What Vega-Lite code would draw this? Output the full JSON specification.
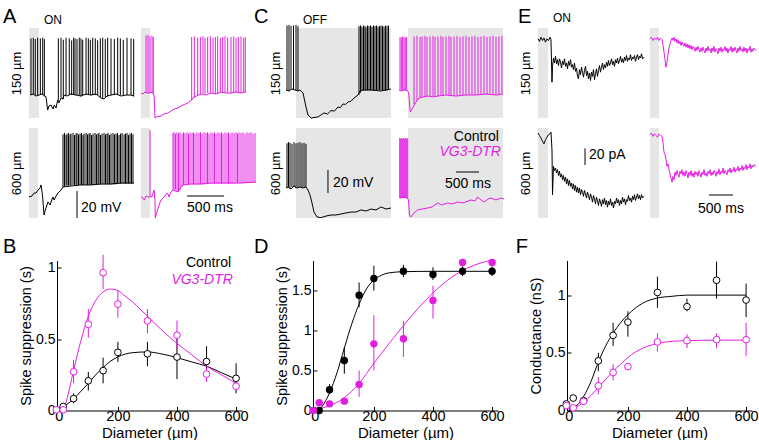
{
"$schema": "https://vega.github.io/schema/vega-lite/v6.json",
"padding": {"left": 2, "top": 7, "right": 2, "bottom": 0},
"config": {
  "font": "Liberation Sans",
  "view": {"stroke": null},
  "axis": {"grid": false, "domainColor": "black", "tickColor": "black", "labelColor": "black", "titleColor": "black", "titleFontWeight": "normal"}
},
"datasets": {
"A": [
{"c":"a1","k":"L","t":-351,"v":70.4,"s":"A"},
{"c":"a1","k":"g","t":0,"t2":135,"v":0,"w":66.7},
{"c":"a1","k":"l","t":14,"v":17},{"c":"a1","k":"l","t":54,"v":17.8},{"c":"a1","k":"l","t":95,"v":16.3},{"c":"a1","k":"l","t":135,"v":17},{"c":"a1","k":"l","t":176,"v":17.8},{"c":"a1","k":"l","t":216,"v":16.3},{"c":"a1","k":"l","t":230,"v":15.6},{"c":"a1","k":"l","t":252,"v":5.9},{"c":"a1","k":"l","t":270,"v":8.9},{"c":"a1","k":"l","t":297,"v":9.6},{"c":"a1","k":"l","t":324,"v":6.7},{"c":"a1","k":"l","t":342,"v":9.6},{"c":"a1","k":"l","t":365,"v":7.4},{"c":"a1","k":"l","t":387,"v":13.3},{"c":"a1","k":"l","t":405,"v":11.1},{"c":"a1","k":"l","t":432,"v":14.8},{"c":"a1","k":"l","t":459,"v":14.1},{"c":"a1","k":"l","t":473,"v":17},{"c":"a1","k":"l","t":513,"v":16.3},{"c":"a1","k":"l","t":567,"v":17.8},{"c":"a1","k":"l","t":635,"v":17},{"c":"a1","k":"l","t":702,"v":16.3},{"c":"a1","k":"l","t":770,"v":17.8},{"c":"a1","k":"l","t":837,"v":17},{"c":"a1","k":"l","t":905,"v":17.8},{"c":"a1","k":"l","t":972,"v":14.8},{"c":"a1","k":"l","t":1013,"v":14.1},{"c":"a1","k":"l","t":1053,"v":16.3},{"c":"a1","k":"l","t":1107,"v":17},{"c":"a1","k":"l","t":1175,"v":17.8},{"c":"a1","k":"l","t":1242,"v":16.3},{"c":"a1","k":"l","t":1310,"v":17},{"c":"a1","k":"l","t":1377,"v":17},{"c":"a1","k":"l","t":1418,"v":16.3},
{"c":"a1","k":"s","t":27,"v":17,"w":59},{"c":"a1","k":"s","t":58,"v":17,"w":59.5},{"c":"a1","k":"s","t":85,"v":17,"w":58.5},{"c":"a1","k":"s","t":117,"v":17,"w":59.5},{"c":"a1","k":"s","t":153,"v":17,"w":59},{"c":"a1","k":"s","t":185,"v":17,"w":59.5},{"c":"a1","k":"s","t":207,"v":16,"w":58.5},
{"c":"a1","k":"s","t":396,"v":13,"w":59},{"c":"a1","k":"s","t":432,"v":15,"w":59.5},{"c":"a1","k":"s","t":463,"v":14,"w":58},{"c":"a1","k":"s","t":500,"v":17,"w":59.5},{"c":"a1","k":"s","t":544,"v":17,"w":59},{"c":"a1","k":"s","t":576,"v":17,"w":57.5},{"c":"a1","k":"s","t":603,"v":17,"w":59.5},{"c":"a1","k":"s","t":621,"v":17,"w":59},{"c":"a1","k":"s","t":648,"v":17,"w":58.5},{"c":"a1","k":"s","t":679,"v":17,"w":59.5},{"c":"a1","k":"s","t":702,"v":16,"w":59},{"c":"a1","k":"s","t":725,"v":17,"w":58},{"c":"a1","k":"s","t":770,"v":17,"w":59.5},{"c":"a1","k":"s","t":801,"v":17,"w":59},{"c":"a1","k":"s","t":828,"v":17,"w":58},{"c":"a1","k":"s","t":860,"v":17,"w":59.5},{"c":"a1","k":"s","t":895,"v":17,"w":59},{"c":"a1","k":"s","t":927,"v":17,"w":57.5},{"c":"a1","k":"s","t":963,"v":15,"w":59},{"c":"a1","k":"s","t":995,"v":14,"w":59.5},{"c":"a1","k":"s","t":1030,"v":15,"w":58.5},{"c":"a1","k":"s","t":1062,"v":16,"w":59.5},{"c":"a1","k":"s","t":1107,"v":17,"w":59},{"c":"a1","k":"s","t":1152,"v":17,"w":58.5},{"c":"a1","k":"s","t":1197,"v":17,"w":59.5},{"c":"a1","k":"s","t":1233,"v":17,"w":59},{"c":"a1","k":"s","t":1273,"v":17,"w":58},{"c":"a1","k":"s","t":1323,"v":17,"w":59.5},{"c":"a1","k":"s","t":1377,"v":17,"w":59},{"c":"a1","k":"s","t":1413,"v":16,"w":58.5},
{"c":"a1","k":"tl","t":203,"v":72.6,"s":"ON","fs":12},
{"c":"a2","k":"g","t":0,"t2":122,"v":0,"w":66.7},
{"c":"a2","k":"l","t":0,"v":18.5},{"c":"a2","k":"l","t":27,"v":17.8},{"c":"a2","k":"l","t":54,"v":19.3},{"c":"a2","k":"l","t":81,"v":18.5},{"c":"a2","k":"l","t":108,"v":18.5},{"c":"a2","k":"l","t":135,"v":19},{"c":"a2","k":"l","t":162,"v":18.5},{"c":"a2","k":"l","t":176,"v":17},{"c":"a2","k":"l","t":189,"v":0},{"c":"a2","k":"l","t":216,"v":1},{"c":"a2","k":"l","t":270,"v":1.5},{"c":"a2","k":"l","t":311,"v":3},{"c":"a2","k":"l","t":365,"v":3.7},{"c":"a2","k":"l","t":405,"v":5.2},{"c":"a2","k":"l","t":446,"v":6.5},{"c":"a2","k":"l","t":500,"v":7.4},{"c":"a2","k":"l","t":540,"v":8.9},{"c":"a2","k":"l","t":600,"v":10.4},{"c":"a2","k":"l","t":635,"v":11.1},{"c":"a2","k":"l","t":675,"v":13},{"c":"a2","k":"l","t":702,"v":14.8},{"c":"a2","k":"l","t":750,"v":16.3},{"c":"a2","k":"l","t":810,"v":17.8},{"c":"a2","k":"l","t":878,"v":17},{"c":"a2","k":"l","t":945,"v":18.5},{"c":"a2","k":"l","t":1013,"v":17.8},{"c":"a2","k":"l","t":1080,"v":19.3},{"c":"a2","k":"l","t":1148,"v":18.5},{"c":"a2","k":"l","t":1215,"v":18.5},{"c":"a2","k":"l","t":1283,"v":19.3},{"c":"a2","k":"l","t":1350,"v":18.5},{"c":"a2","k":"l","t":1418,"v":19.3},
{"c":"a2","k":"s","t":68,"v":18.5,"w":61},{"c":"a2","k":"s","t":95,"v":18.5,"w":61.5},{"c":"a2","k":"s","t":122,"v":18.5,"w":60.5},{"c":"a2","k":"s","t":149,"v":18.5,"w":61},{"c":"a2","k":"s","t":166,"v":18,"w":60},
{"c":"a2","k":"s","t":684,"v":13,"w":60},{"c":"a2","k":"s","t":720,"v":15,"w":60.5},{"c":"a2","k":"s","t":765,"v":16.5,"w":59.5},{"c":"a2","k":"s","t":801,"v":17.5,"w":60},{"c":"a2","k":"s","t":837,"v":18,"w":60.5},{"c":"a2","k":"s","t":864,"v":18,"w":59.5},{"c":"a2","k":"s","t":900,"v":18.5,"w":60},{"c":"a2","k":"s","t":936,"v":18.5,"w":60.5},{"c":"a2","k":"s","t":972,"v":18.5,"w":59.5},{"c":"a2","k":"s","t":1004,"v":18,"w":60},{"c":"a2","k":"s","t":1035,"v":18,"w":60.5},{"c":"a2","k":"s","t":1071,"v":19,"w":59.5},{"c":"a2","k":"s","t":1103,"v":19,"w":60},{"c":"a2","k":"s","t":1134,"v":18.5,"w":60.5},{"c":"a2","k":"s","t":1170,"v":18.5,"w":59.5},{"c":"a2","k":"s","t":1215,"v":18.5,"w":60},{"c":"a2","k":"s","t":1251,"v":18.5,"w":60.5},{"c":"a2","k":"s","t":1283,"v":19,"w":59.5},{"c":"a2","k":"s","t":1314,"v":19,"w":60},{"c":"a2","k":"s","t":1350,"v":18.5,"w":60.5},{"c":"a2","k":"s","t":1386,"v":19,"w":59.5},{"c":"a2","k":"s","t":1408,"v":19,"w":60},
{"c":"a3","k":"g","t":0,"t2":120,"v":0,"w":66.7},
{"c":"a3","k":"l","t":0,"v":15.6},{"c":"a3","k":"l","t":40,"v":16.3},{"c":"a3","k":"l","t":68,"v":18.5},{"c":"a3","k":"l","t":95,"v":18.5},{"c":"a3","k":"l","t":122,"v":20.7},{"c":"a3","k":"l","t":149,"v":22.2},{"c":"a3","k":"l","t":162,"v":24.5},{"c":"a3","k":"l","t":182,"v":17},{"c":"a3","k":"l","t":203,"v":2.2},{"c":"a3","k":"l","t":216,"v":5.2},{"c":"a3","k":"l","t":257,"v":11.9},{"c":"a3","k":"l","t":284,"v":9.6},{"c":"a3","k":"l","t":311,"v":14.1},{"c":"a3","k":"l","t":324,"v":15.6},{"c":"a3","k":"l","t":338,"v":13.3},{"c":"a3","k":"l","t":365,"v":16.3},{"c":"a3","k":"l","t":392,"v":18.5},{"c":"a3","k":"l","t":419,"v":20},{"c":"a3","k":"l","t":432,"v":20.7},{"c":"a3","k":"l","t":459,"v":23},{"c":"a3","k":"l","t":567,"v":23.7},{"c":"a3","k":"l","t":702,"v":24.5},{"c":"a3","k":"l","t":837,"v":24.5},{"c":"a3","k":"l","t":972,"v":25.2},{"c":"a3","k":"l","t":1107,"v":25.2},{"c":"a3","k":"l","t":1242,"v":25.9},{"c":"a3","k":"l","t":1418,"v":25.9},
{"c":"a3","k":"s","t":459,"v":23,"w":62},{"c":"a3","k":"s","t":479,"v":23.5,"w":63},{"c":"a3","k":"s","t":500,"v":24,"w":61.5},{"c":"a3","k":"s","t":513,"v":24,"w":62.5},{"c":"a3","k":"s","t":533,"v":24,"w":63},{"c":"a3","k":"s","t":554,"v":24,"w":62},{"c":"a3","k":"s","t":567,"v":24,"w":62.5},{"c":"a3","k":"s","t":594,"v":24.5,"w":63},{"c":"a3","k":"s","t":614,"v":24.5,"w":61.5},{"c":"a3","k":"s","t":635,"v":24.5,"w":62.5},{"c":"a3","k":"s","t":648,"v":24.5,"w":63},{"c":"a3","k":"s","t":668,"v":24.5,"w":62},{"c":"a3","k":"s","t":689,"v":24.5,"w":62.5},{"c":"a3","k":"s","t":709,"v":24.5,"w":63},{"c":"a3","k":"s","t":729,"v":24.5,"w":61.5},{"c":"a3","k":"s","t":743,"v":24.5,"w":62.5},{"c":"a3","k":"s","t":770,"v":24.5,"w":63},{"c":"a3","k":"s","t":790,"v":24.5,"w":62},{"c":"a3","k":"s","t":810,"v":24.5,"w":62.5},{"c":"a3","k":"s","t":824,"v":24.5,"w":63},{"c":"a3","k":"s","t":844,"v":24.5,"w":61.5},{"c":"a3","k":"s","t":864,"v":24.5,"w":62.5},{"c":"a3","k":"s","t":891,"v":25,"w":63},{"c":"a3","k":"s","t":911,"v":25,"w":62},{"c":"a3","k":"s","t":932,"v":25,"w":62.5},{"c":"a3","k":"s","t":945,"v":25,"w":63},{"c":"a3","k":"s","t":965,"v":25,"w":61.5},{"c":"a3","k":"s","t":986,"v":25,"w":62.5},{"c":"a3","k":"s","t":1013,"v":25,"w":63},{"c":"a3","k":"s","t":1033,"v":25,"w":62},{"c":"a3","k":"s","t":1053,"v":25,"w":62.5},{"c":"a3","k":"s","t":1067,"v":25,"w":63},{"c":"a3","k":"s","t":1087,"v":25,"w":61.5},{"c":"a3","k":"s","t":1107,"v":25,"w":62.5},{"c":"a3","k":"s","t":1134,"v":25,"w":63},{"c":"a3","k":"s","t":1154,"v":25,"w":62},{"c":"a3","k":"s","t":1175,"v":25,"w":62.5},{"c":"a3","k":"s","t":1195,"v":25.5,"w":63},{"c":"a3","k":"s","t":1215,"v":25.5,"w":61.5},{"c":"a3","k":"s","t":1235,"v":25.5,"w":62.5},{"c":"a3","k":"s","t":1256,"v":25.5,"w":63},{"c":"a3","k":"s","t":1283,"v":25.5,"w":62},{"c":"a3","k":"s","t":1303,"v":25.5,"w":62.5},{"c":"a3","k":"s","t":1323,"v":25.5,"w":63},{"c":"a3","k":"s","t":1343,"v":25.5,"w":61.5},{"c":"a3","k":"s","t":1364,"v":25.5,"w":62.5},{"c":"a3","k":"s","t":1384,"v":25.5,"w":63},{"c":"a3","k":"s","t":1404,"v":25.5,"w":62},
{"c":"a3","k":"b","t":648,"t2":648,"v":0,"w":20},
{"c":"a3","k":"tl","t":702,"v":7.4,"s":"20 mV","fs":14},
{"c":"a4","k":"g","t":0,"t2":122,"v":0,"w":66.7},
{"c":"a4","k":"l","t":0,"v":15.6},{"c":"a4","k":"l","t":27,"v":14.8},{"c":"a4","k":"l","t":45,"v":13.3},{"c":"a4","k":"l","t":68,"v":16.3},{"c":"a4","k":"l","t":95,"v":15.6},{"c":"a4","k":"l","t":122,"v":15.6},{"c":"a4","k":"l","t":144,"v":15.6},{"c":"a4","k":"l","t":176,"v":20.7},{"c":"a4","k":"l","t":189,"v":13.3},{"c":"a4","k":"l","t":193,"v":0},{"c":"a4","k":"l","t":216,"v":4.4},{"c":"a4","k":"l","t":243,"v":9.6},{"c":"a4","k":"l","t":270,"v":13.3},{"c":"a4","k":"l","t":311,"v":15.6},{"c":"a4","k":"l","t":351,"v":18.5},{"c":"a4","k":"l","t":365,"v":17.8},{"c":"a4","k":"l","t":378,"v":15.6},{"c":"a4","k":"l","t":405,"v":19.3},{"c":"a4","k":"l","t":432,"v":20.7},{"c":"a4","k":"l","t":500,"v":19.3},{"c":"a4","k":"l","t":540,"v":23},{"c":"a4","k":"l","t":567,"v":24.5},{"c":"a4","k":"l","t":675,"v":25.2},{"c":"a4","k":"l","t":810,"v":25.2},{"c":"a4","k":"l","t":945,"v":25.9},{"c":"a4","k":"l","t":1080,"v":25.9},{"c":"a4","k":"l","t":1215,"v":25.9},{"c":"a4","k":"l","t":1350,"v":25.9},{"c":"a4","k":"l","t":1553,"v":26.7},
{"c":"a4","k":"s","t":122,"v":15.6,"w":65},
{"c":"a4","k":"s","t":432,"v":20.7,"w":63},{"c":"a4","k":"s","t":446,"v":21,"w":63.5},{"c":"a4","k":"s","t":466,"v":21,"w":62.5},{"c":"a4","k":"s","t":486,"v":20,"w":63.5},{"c":"a4","k":"s","t":506,"v":19.5,"w":63},{"c":"a4","k":"s","t":527,"v":21,"w":63.5},{"c":"a4","k":"s","t":554,"v":23,"w":62.5},{"c":"a4","k":"s","t":574,"v":24.5,"w":63.5},{"c":"a4","k":"s","t":594,"v":24.5,"w":63},{"c":"a4","k":"s","t":621,"v":25,"w":63.5},{"c":"a4","k":"s","t":641,"v":25,"w":62.5},{"c":"a4","k":"s","t":662,"v":25,"w":63.5},{"c":"a4","k":"s","t":689,"v":25,"w":63},{"c":"a4","k":"s","t":709,"v":25,"w":63.5},{"c":"a4","k":"s","t":729,"v":25,"w":62.5},{"c":"a4","k":"s","t":756,"v":25,"w":63.5},{"c":"a4","k":"s","t":783,"v":25,"w":63},{"c":"a4","k":"s","t":803,"v":25,"w":63.5},{"c":"a4","k":"s","t":824,"v":25,"w":62.5},{"c":"a4","k":"s","t":851,"v":25,"w":63.5},{"c":"a4","k":"s","t":878,"v":25,"w":63},{"c":"a4","k":"s","t":898,"v":25.5,"w":63.5},{"c":"a4","k":"s","t":918,"v":25.5,"w":62.5},{"c":"a4","k":"s","t":945,"v":25.5,"w":63.5},{"c":"a4","k":"s","t":972,"v":25.5,"w":63},{"c":"a4","k":"s","t":992,"v":25.5,"w":63.5},{"c":"a4","k":"s","t":1013,"v":25.5,"w":62.5},{"c":"a4","k":"s","t":1040,"v":25.5,"w":63.5},{"c":"a4","k":"s","t":1067,"v":25.5,"w":63},{"c":"a4","k":"s","t":1087,"v":25.5,"w":63.5},{"c":"a4","k":"s","t":1107,"v":25.5,"w":62.5},{"c":"a4","k":"s","t":1134,"v":25.5,"w":63.5},{"c":"a4","k":"s","t":1161,"v":25.5,"w":63},{"c":"a4","k":"s","t":1181,"v":25.5,"w":63.5},{"c":"a4","k":"s","t":1202,"v":25.5,"w":62.5},{"c":"a4","k":"s","t":1229,"v":25.5,"w":63.5},{"c":"a4","k":"s","t":1256,"v":25.5,"w":63},{"c":"a4","k":"s","t":1283,"v":26,"w":63.5},{"c":"a4","k":"s","t":1303,"v":26,"w":62.5},{"c":"a4","k":"s","t":1323,"v":26,"w":63.5},{"c":"a4","k":"s","t":1350,"v":26,"w":63},{"c":"a4","k":"s","t":1377,"v":26,"w":63.5},{"c":"a4","k":"s","t":1404,"v":26,"w":62.5},{"c":"a4","k":"s","t":1431,"v":26,"w":63.5},{"c":"a4","k":"s","t":1458,"v":26,"w":63},{"c":"a4","k":"s","t":1485,"v":26,"w":63.5},{"c":"a4","k":"s","t":1512,"v":26,"w":62.5},{"c":"a4","k":"s","t":1539,"v":26,"w":63},
{"c":"a4","k":"b","t":621,"t2":1121,"v":16.3,"w":16.3},
{"c":"a4","k":"tc","t":932,"v":7.4,"s":"500 ms","fs":14}
],
"C": [
{"c":"c1","k":"L","t":-694,"v":82.65,"s":"C"},
{"c":"c1","k":"g","t":217,"t2":2279,"v":0,"w":78.3},
{"c":"c1","k":"l","t":0,"v":24.4},{"c":"c1","k":"l","t":65,"v":23.5},{"c":"c1","k":"l","t":130,"v":25.2},{"c":"c1","k":"l","t":195,"v":24.4},{"c":"c1","k":"l","t":260,"v":23.5},{"c":"c1","k":"l","t":304,"v":24.4},{"c":"c1","k":"l","t":369,"v":21.8},{"c":"c1","k":"l","t":434,"v":9.6},{"c":"c1","k":"l","t":477,"v":2.6},{"c":"c1","k":"l","t":543,"v":0},{"c":"c1","k":"l","t":694,"v":0.9},{"c":"c1","k":"l","t":825,"v":4.4},{"c":"c1","k":"l","t":900,"v":3.5},{"c":"c1","k":"l","t":977,"v":6.5},{"c":"c1","k":"l","t":1050,"v":6},{"c":"c1","k":"l","t":1128,"v":9.6},{"c":"c1","k":"l","t":1180,"v":9},{"c":"c1","k":"l","t":1237,"v":12.2},{"c":"c1","k":"l","t":1290,"v":11.8},{"c":"c1","k":"l","t":1345,"v":13.9},{"c":"c1","k":"l","t":1410,"v":14.5},{"c":"c1","k":"l","t":1476,"v":17.4},{"c":"c1","k":"l","t":1562,"v":20},{"c":"c1","k":"l","t":1606,"v":23.5},{"c":"c1","k":"l","t":1671,"v":24.4},{"c":"c1","k":"l","t":1845,"v":24.4},{"c":"c1","k":"l","t":2062,"v":23.5},{"c":"c1","k":"l","t":2279,"v":25.2},
{"c":"c1","k":"s","t":22,"v":24.4,"w":80.5},{"c":"c1","k":"s","t":65,"v":23.5,"w":81},{"c":"c1","k":"s","t":109,"v":25,"w":80},{"c":"c1","k":"s","t":163,"v":24.4,"w":80.5},{"c":"c1","k":"s","t":217,"v":24,"w":81},{"c":"c1","k":"s","t":260,"v":23.5,"w":80},
{"c":"c1","k":"s","t":1584,"v":20,"w":80},{"c":"c1","k":"s","t":1617,"v":22,"w":80.5},{"c":"c1","k":"s","t":1649,"v":23.5,"w":79.5},{"c":"c1","k":"s","t":1682,"v":24,"w":80.5},{"c":"c1","k":"s","t":1714,"v":24,"w":80},{"c":"c1","k":"s","t":1736,"v":24,"w":79},{"c":"c1","k":"s","t":1769,"v":24,"w":80.5},{"c":"c1","k":"s","t":1801,"v":24,"w":80},{"c":"c1","k":"s","t":1834,"v":24,"w":80.5},{"c":"c1","k":"s","t":1866,"v":24,"w":79.5},{"c":"c1","k":"s","t":1899,"v":24,"w":80.5},{"c":"c1","k":"s","t":1931,"v":24,"w":80},{"c":"c1","k":"s","t":1964,"v":24,"w":80.5},{"c":"c1","k":"s","t":1997,"v":24,"w":79.5},{"c":"c1","k":"s","t":2029,"v":24,"w":80},{"c":"c1","k":"s","t":2062,"v":24,"w":80.5},{"c":"c1","k":"s","t":2094,"v":24,"w":80},{"c":"c1","k":"s","t":2127,"v":24,"w":79.5},{"c":"c1","k":"s","t":2159,"v":24,"w":80.5},{"c":"c1","k":"s","t":2192,"v":24,"w":80},{"c":"c1","k":"s","t":2224,"v":24.5,"w":80.5},
{"c":"c1","k":"tl","t":369,"v":85.3,"s":"OFF","fs":12},
{"c":"c2","k":"g","t":195,"t2":2257,"v":0,"w":78.3},
{"c":"c2","k":"l","t":0,"v":24.4},{"c":"c2","k":"l","t":43,"v":23.5},{"c":"c2","k":"l","t":109,"v":24.4},{"c":"c2","k":"l","t":174,"v":24.4},{"c":"c2","k":"l","t":210,"v":21.8},{"c":"c2","k":"l","t":245,"v":5.2},{"c":"c2","k":"l","t":297,"v":8.7},{"c":"c2","k":"l","t":369,"v":13.9},{"c":"c2","k":"l","t":434,"v":17.4},{"c":"c2","k":"l","t":521,"v":18.3},{"c":"c2","k":"l","t":629,"v":19.1},{"c":"c2","k":"l","t":738,"v":18.3},{"c":"c2","k":"l","t":846,"v":19.1},{"c":"c2","k":"l","t":1020,"v":20},{"c":"c2","k":"l","t":1237,"v":19.1},{"c":"c2","k":"l","t":1454,"v":20},{"c":"c2","k":"l","t":1671,"v":20},{"c":"c2","k":"l","t":1888,"v":20.9},{"c":"c2","k":"l","t":2105,"v":20},{"c":"c2","k":"l","t":2257,"v":20.9},
{"c":"c2","k":"s","t":22,"v":24,"w":70.5},{"c":"c2","k":"s","t":50,"v":24,"w":70},{"c":"c2","k":"s","t":80,"v":24,"w":71},{"c":"c2","k":"s","t":109,"v":24,"w":70.5},{"c":"c2","k":"s","t":137,"v":24,"w":70},{"c":"c2","k":"s","t":167,"v":24,"w":70.5},
{"c":"c2","k":"s","t":326,"v":12,"w":71},{"c":"c2","k":"s","t":391,"v":15,"w":71.5},{"c":"c2","k":"s","t":456,"v":17.5,"w":70.5},{"c":"c2","k":"s","t":499,"v":18,"w":71},{"c":"c2","k":"s","t":564,"v":18.5,"w":71.5},{"c":"c2","k":"s","t":608,"v":19,"w":70.5},{"c":"c2","k":"s","t":673,"v":19,"w":71},{"c":"c2","k":"s","t":738,"v":18.5,"w":71.5},{"c":"c2","k":"s","t":781,"v":19,"w":70.5},{"c":"c2","k":"s","t":846,"v":19,"w":71},{"c":"c2","k":"s","t":911,"v":19.5,"w":71.5},{"c":"c2","k":"s","t":955,"v":19.5,"w":70.5},{"c":"c2","k":"s","t":1020,"v":20,"w":71},{"c":"c2","k":"s","t":1085,"v":19.5,"w":71.5},{"c":"c2","k":"s","t":1128,"v":19.5,"w":70.5},{"c":"c2","k":"s","t":1194,"v":19.5,"w":71},{"c":"c2","k":"s","t":1259,"v":19.5,"w":71.5},{"c":"c2","k":"s","t":1324,"v":20,"w":70.5},{"c":"c2","k":"s","t":1389,"v":20,"w":71},{"c":"c2","k":"s","t":1454,"v":20,"w":71.5},{"c":"c2","k":"s","t":1519,"v":20,"w":70.5},{"c":"c2","k":"s","t":1584,"v":20,"w":71},{"c":"c2","k":"s","t":1649,"v":20,"w":71.5},{"c":"c2","k":"s","t":1714,"v":20,"w":70.5},{"c":"c2","k":"s","t":1779,"v":20,"w":71},{"c":"c2","k":"s","t":1845,"v":20.5,"w":71.5},{"c":"c2","k":"s","t":1910,"v":20.5,"w":70.5},{"c":"c2","k":"s","t":1975,"v":20.5,"w":71},{"c":"c2","k":"s","t":2040,"v":20.5,"w":71.5},{"c":"c2","k":"s","t":2105,"v":20,"w":70.5},{"c":"c2","k":"s","t":2170,"v":20.5,"w":71},{"c":"c2","k":"s","t":2235,"v":20.5,"w":71.5},
{"c":"c3","k":"g","t":217,"t2":2279,"v":0,"w":78.3},
{"c":"c3","k":"l","t":0,"v":26.1},{"c":"c3","k":"l","t":43,"v":27},{"c":"c3","k":"l","t":109,"v":25.2},{"c":"c3","k":"l","t":174,"v":27.8},{"c":"c3","k":"l","t":239,"v":26.1},{"c":"c3","k":"l","t":304,"v":27},{"c":"c3","k":"l","t":369,"v":26.1},{"c":"c3","k":"l","t":434,"v":27},{"c":"c3","k":"l","t":477,"v":24.4},{"c":"c3","k":"l","t":521,"v":20},{"c":"c3","k":"l","t":564,"v":13.1},{"c":"c3","k":"l","t":608,"v":5.2},{"c":"c3","k":"l","t":673,"v":0.9},{"c":"c3","k":"l","t":760,"v":0.3},{"c":"c3","k":"l","t":868,"v":1.7},{"c":"c3","k":"l","t":977,"v":2.6},{"c":"c3","k":"l","t":1085,"v":2.6},{"c":"c3","k":"l","t":1194,"v":3.5},{"c":"c3","k":"l","t":1302,"v":4.4},{"c":"c3","k":"l","t":1411,"v":5.2},{"c":"c3","k":"l","t":1519,"v":5.2},{"c":"c3","k":"l","t":1628,"v":7},{"c":"c3","k":"l","t":1736,"v":6.1},{"c":"c3","k":"l","t":1845,"v":7.8},{"c":"c3","k":"l","t":1953,"v":7},{"c":"c3","k":"l","t":2062,"v":9.6},{"c":"c3","k":"l","t":2170,"v":7.8},{"c":"c3","k":"l","t":2279,"v":8.7},
{"c":"c3","k":"s","t":22,"v":26,"w":65},{"c":"c3","k":"s","t":54,"v":27,"w":66},{"c":"c3","k":"s","t":87,"v":25.5,"w":65.5},{"c":"c3","k":"s","t":130,"v":27,"w":64.5},{"c":"c3","k":"s","t":174,"v":27.5,"w":66},{"c":"c3","k":"s","t":217,"v":26,"w":65},{"c":"c3","k":"s","t":260,"v":27,"w":65.5},{"c":"c3","k":"s","t":304,"v":27,"w":66},{"c":"c3","k":"s","t":347,"v":26,"w":65},{"c":"c3","k":"s","t":391,"v":27,"w":65.5},{"c":"c3","k":"s","t":434,"v":27,"w":64.5},
{"c":"c3","k":"b","t":911,"t2":911,"v":21.75,"w":41.75},
{"c":"c3","k":"tl","t":1020,"v":30.5,"s":"20 mV","fs":14},
{"c":"c4","k":"g","t":195,"t2":2257,"v":0,"w":78.3},
{"c":"c4","k":"l","t":0,"v":18.3},{"c":"c4","k":"l","t":43,"v":17.4},{"c":"c4","k":"l","t":109,"v":18.3},{"c":"c4","k":"l","t":174,"v":17.4},{"c":"c4","k":"l","t":206,"v":15.7},{"c":"c4","k":"l","t":228,"v":2.6},{"c":"c4","k":"l","t":260,"v":0.9},{"c":"c4","k":"l","t":326,"v":4.4},{"c":"c4","k":"l","t":406,"v":7},{"c":"c4","k":"l","t":499,"v":7.8},{"c":"c4","k":"l","t":623,"v":8.7},{"c":"c4","k":"l","t":716,"v":9.6},{"c":"c4","k":"l","t":840,"v":13.1},{"c":"c4","k":"l","t":933,"v":11.3},{"c":"c4","k":"l","t":1057,"v":13.1},{"c":"c4","k":"l","t":1150,"v":12.2},{"c":"c4","k":"l","t":1274,"v":13.9},{"c":"c4","k":"l","t":1389,"v":13.1},{"c":"c4","k":"l","t":1562,"v":15.7},{"c":"c4","k":"l","t":1649,"v":14.8},{"c":"c4","k":"l","t":1708,"v":18.3},{"c":"c4","k":"l","t":1779,"v":15.7},{"c":"c4","k":"l","t":1851,"v":13.9},{"c":"c4","k":"l","t":1931,"v":16.5},{"c":"c4","k":"l","t":1996,"v":17.4},{"c":"c4","k":"l","t":2105,"v":15.7},{"c":"c4","k":"l","t":2213,"v":17.4},{"c":"c4","k":"l","t":2279,"v":16.5},
{"c":"c4","k":"s","t":15,"v":17.4,"w":69.6},{"c":"c4","k":"s","t":37,"v":17.4,"w":69},{"c":"c4","k":"s","t":59,"v":17.4,"w":69.6},{"c":"c4","k":"s","t":80,"v":17.4,"w":69},{"c":"c4","k":"s","t":102,"v":17.4,"w":69.6},{"c":"c4","k":"s","t":124,"v":17.4,"w":69},{"c":"c4","k":"s","t":145,"v":17.4,"w":69.6},{"c":"c4","k":"s","t":167,"v":17.4,"w":69},{"c":"c4","k":"s","t":189,"v":17,"w":69.6},
{"c":"c4","k":"b","t":1237,"t2":1737,"v":40,"w":40},
{"c":"c4","k":"tc","t":1497,"v":29.6,"s":"500 ms","fs":14},
{"c":"c4","k":"tr","t":2170,"v":70.5,"s":"Control","fs":14},
{"c":"c4","k":"ti","t":2213,"v":57.4,"s":"VG3-DTR","fs":14}
],
"E": [
{"c":"e1","k":"L","t":-416,"v":114,"s":"E"},
{"c":"e1","k":"g","t":0,"t2":208,"v":0,"w":108},
{"c":"e1","k":"l","t":0,"v":95},{"c":"e1","k":"l","t":31,"v":92},{"c":"e1","k":"l","t":62,"v":97},{"c":"e1","k":"l","t":94,"v":93},{"c":"e1","k":"l","t":125,"v":96},{"c":"e1","k":"l","t":156,"v":91},{"c":"e1","k":"l","t":187,"v":95},{"c":"e1","k":"l","t":218,"v":93},{"c":"e1","k":"l","t":250,"v":97},{"c":"e1","k":"l","t":270,"v":94},{"c":"e1","k":"l","t":291,"v":43},{"c":"e1","k":"l","t":302,"v":62},{"c":"e1","k":"l","t":322,"v":72},{"c":"e1","k":"l","t":343,"v":66},{"c":"e1","k":"l","t":364,"v":74},{"c":"e1","k":"l","t":385,"v":65},{"c":"e1","k":"l","t":406,"v":70},{"c":"e1","k":"l","t":426,"v":63},{"c":"e1","k":"l","t":447,"v":71},{"c":"e1","k":"l","t":468,"v":67},{"c":"e1","k":"l","t":489,"v":60},{"c":"e1","k":"l","t":510,"v":68},{"c":"e1","k":"l","t":530,"v":64},{"c":"e1","k":"l","t":551,"v":71},{"c":"e1","k":"l","t":572,"v":62},{"c":"e1","k":"l","t":593,"v":66},{"c":"e1","k":"l","t":614,"v":59},{"c":"e1","k":"l","t":634,"v":68},{"c":"e1","k":"l","t":655,"v":63},{"c":"e1","k":"l","t":676,"v":70},{"c":"e1","k":"l","t":697,"v":61},{"c":"e1","k":"l","t":718,"v":64},{"c":"e1","k":"l","t":738,"v":58},{"c":"e1","k":"l","t":759,"v":66},{"c":"e1","k":"l","t":780,"v":56},{"c":"e1","k":"l","t":801,"v":60},{"c":"e1","k":"l","t":822,"v":50},{"c":"e1","k":"l","t":842,"v":47},{"c":"e1","k":"l","t":863,"v":58},{"c":"e1","k":"l","t":884,"v":52},{"c":"e1","k":"l","t":905,"v":61},{"c":"e1","k":"l","t":926,"v":55},{"c":"e1","k":"l","t":946,"v":49},{"c":"e1","k":"l","t":967,"v":57},{"c":"e1","k":"l","t":988,"v":62},{"c":"e1","k":"l","t":1009,"v":51},{"c":"e1","k":"l","t":1030,"v":56},{"c":"e1","k":"l","t":1050,"v":47},{"c":"e1","k":"l","t":1071,"v":54},{"c":"e1","k":"l","t":1092,"v":45},{"c":"e1","k":"l","t":1113,"v":55},{"c":"e1","k":"l","t":1134,"v":50},{"c":"e1","k":"l","t":1154,"v":58},{"c":"e1","k":"l","t":1175,"v":46},{"c":"e1","k":"l","t":1196,"v":53},{"c":"e1","k":"l","t":1217,"v":59},{"c":"e1","k":"l","t":1238,"v":50},{"c":"e1","k":"l","t":1258,"v":57},{"c":"e1","k":"l","t":1279,"v":63},{"c":"e1","k":"l","t":1300,"v":55},{"c":"e1","k":"l","t":1321,"v":61},{"c":"e1","k":"l","t":1342,"v":66},{"c":"e1","k":"l","t":1362,"v":58},{"c":"e1","k":"l","t":1383,"v":64},{"c":"e1","k":"l","t":1404,"v":60},{"c":"e1","k":"l","t":1425,"v":67},{"c":"e1","k":"l","t":1446,"v":62},{"c":"e1","k":"l","t":1466,"v":69},{"c":"e1","k":"l","t":1487,"v":63},{"c":"e1","k":"l","t":1508,"v":66},{"c":"e1","k":"l","t":1529,"v":71},{"c":"e1","k":"l","t":1550,"v":64},{"c":"e1","k":"l","t":1570,"v":68},{"c":"e1","k":"l","t":1591,"v":62},{"c":"e1","k":"l","t":1612,"v":70},{"c":"e1","k":"l","t":1633,"v":66},{"c":"e1","k":"l","t":1654,"v":72},{"c":"e1","k":"l","t":1674,"v":65},{"c":"e1","k":"l","t":1695,"v":69},{"c":"e1","k":"l","t":1716,"v":74},{"c":"e1","k":"l","t":1737,"v":67},{"c":"e1","k":"l","t":1758,"v":71},{"c":"e1","k":"l","t":1778,"v":66},{"c":"e1","k":"l","t":1799,"v":73},{"c":"e1","k":"l","t":1820,"v":69},{"c":"e1","k":"l","t":1841,"v":75},{"c":"e1","k":"l","t":1862,"v":68},{"c":"e1","k":"l","t":1882,"v":72},{"c":"e1","k":"l","t":1903,"v":70},{"c":"e1","k":"l","t":1924,"v":76},{"c":"e1","k":"l","t":1945,"v":69},{"c":"e1","k":"l","t":1966,"v":73},{"c":"e1","k":"l","t":1986,"v":71},{"c":"e1","k":"l","t":2007,"v":75},{"c":"e1","k":"l","t":2028,"v":68},{"c":"e1","k":"l","t":2049,"v":73},{"c":"e1","k":"l","t":2070,"v":76},{"c":"e1","k":"l","t":2090,"v":70},{"c":"e1","k":"l","t":2111,"v":74},{"c":"e1","k":"l","t":2132,"v":72},{"c":"e1","k":"l","t":2153,"v":77},{"c":"e1","k":"l","t":2174,"v":71},{"c":"e1","k":"l","t":2205,"v":73},
{"c":"e1","k":"tl","t":312,"v":120,"s":"ON","fs":12},
{"c":"e2","k":"g","t":0,"t2":187,"v":0,"w":108},
{"c":"e2","k":"l","t":0,"v":95},{"c":"e2","k":"l","t":31,"v":97},{"c":"e2","k":"l","t":62,"v":93},{"c":"e2","k":"l","t":94,"v":96},{"c":"e2","k":"l","t":125,"v":94},{"c":"e2","k":"l","t":156,"v":97},{"c":"e2","k":"l","t":187,"v":93},{"c":"e2","k":"l","t":218,"v":96},{"c":"e2","k":"l","t":250,"v":94},{"c":"e2","k":"l","t":270,"v":88},{"c":"e2","k":"l","t":291,"v":79},{"c":"e2","k":"l","t":312,"v":70},{"c":"e2","k":"l","t":333,"v":61},{"c":"e2","k":"l","t":354,"v":67},{"c":"e2","k":"l","t":374,"v":76},{"c":"e2","k":"l","t":395,"v":84},{"c":"e2","k":"l","t":416,"v":89},{"c":"e2","k":"l","t":437,"v":93},{"c":"e2","k":"l","t":458,"v":96},{"c":"e2","k":"l","t":478,"v":93},{"c":"e2","k":"l","t":499,"v":97},{"c":"e2","k":"l","t":520,"v":92},{"c":"e2","k":"l","t":541,"v":95},{"c":"e2","k":"l","t":562,"v":90},{"c":"e2","k":"l","t":582,"v":94},{"c":"e2","k":"l","t":603,"v":89},{"c":"e2","k":"l","t":624,"v":92},{"c":"e2","k":"l","t":645,"v":87},{"c":"e2","k":"l","t":666,"v":91},{"c":"e2","k":"l","t":686,"v":88},{"c":"e2","k":"l","t":707,"v":86},{"c":"e2","k":"l","t":728,"v":90},{"c":"e2","k":"l","t":749,"v":85},{"c":"e2","k":"l","t":770,"v":89},{"c":"e2","k":"l","t":790,"v":84},{"c":"e2","k":"l","t":811,"v":88},{"c":"e2","k":"l","t":832,"v":83},{"c":"e2","k":"l","t":853,"v":87},{"c":"e2","k":"l","t":874,"v":82},{"c":"e2","k":"l","t":894,"v":86},{"c":"e2","k":"l","t":915,"v":84},{"c":"e2","k":"l","t":936,"v":80},{"c":"e2","k":"l","t":957,"v":85},{"c":"e2","k":"l","t":978,"v":81},{"c":"e2","k":"l","t":998,"v":86},{"c":"e2","k":"l","t":1019,"v":82},{"c":"e2","k":"l","t":1040,"v":79},{"c":"e2","k":"l","t":1061,"v":84},{"c":"e2","k":"l","t":1082,"v":80},{"c":"e2","k":"l","t":1102,"v":85},{"c":"e2","k":"l","t":1123,"v":81},{"c":"e2","k":"l","t":1144,"v":78},{"c":"e2","k":"l","t":1165,"v":84},{"c":"e2","k":"l","t":1186,"v":80},{"c":"e2","k":"l","t":1206,"v":86},{"c":"e2","k":"l","t":1227,"v":81},{"c":"e2","k":"l","t":1248,"v":83},{"c":"e2","k":"l","t":1269,"v":78},{"c":"e2","k":"l","t":1290,"v":84},{"c":"e2","k":"l","t":1310,"v":80},{"c":"e2","k":"l","t":1331,"v":86},{"c":"e2","k":"l","t":1352,"v":79},{"c":"e2","k":"l","t":1373,"v":83},{"c":"e2","k":"l","t":1394,"v":81},{"c":"e2","k":"l","t":1414,"v":77},{"c":"e2","k":"l","t":1435,"v":84},{"c":"e2","k":"l","t":1456,"v":80},{"c":"e2","k":"l","t":1477,"v":85},{"c":"e2","k":"l","t":1498,"v":79},{"c":"e2","k":"l","t":1518,"v":83},{"c":"e2","k":"l","t":1539,"v":81},{"c":"e2","k":"l","t":1560,"v":86},{"c":"e2","k":"l","t":1581,"v":80},{"c":"e2","k":"l","t":1602,"v":84},{"c":"e2","k":"l","t":1622,"v":78},{"c":"e2","k":"l","t":1643,"v":83},{"c":"e2","k":"l","t":1664,"v":81},{"c":"e2","k":"l","t":1685,"v":86},{"c":"e2","k":"l","t":1706,"v":79},{"c":"e2","k":"l","t":1726,"v":84},{"c":"e2","k":"l","t":1747,"v":80},{"c":"e2","k":"l","t":1768,"v":85},{"c":"e2","k":"l","t":1789,"v":81},{"c":"e2","k":"l","t":1810,"v":78},{"c":"e2","k":"l","t":1830,"v":84},{"c":"e2","k":"l","t":1851,"v":80},{"c":"e2","k":"l","t":1872,"v":86},{"c":"e2","k":"l","t":1893,"v":81},{"c":"e2","k":"l","t":1914,"v":83},{"c":"e2","k":"l","t":1934,"v":79},{"c":"e2","k":"l","t":1955,"v":85},{"c":"e2","k":"l","t":1976,"v":80},{"c":"e2","k":"l","t":1997,"v":84},{"c":"e2","k":"l","t":2018,"v":78},{"c":"e2","k":"l","t":2038,"v":83},{"c":"e2","k":"l","t":2059,"v":81},{"c":"e2","k":"l","t":2080,"v":86},{"c":"e2","k":"l","t":2101,"v":79},{"c":"e2","k":"l","t":2122,"v":83},{"c":"e2","k":"l","t":2142,"v":80},{"c":"e2","k":"l","t":2163,"v":84},{"c":"e2","k":"l","t":2205,"v":81},
{"c":"e3","k":"g","t":0,"t2":208,"v":0,"w":108},
{"c":"e3","k":"l","t":0,"v":102},{"c":"e3","k":"l","t":31,"v":99},{"c":"e3","k":"l","t":62,"v":96},{"c":"e3","k":"l","t":94,"v":92},{"c":"e3","k":"l","t":125,"v":89},{"c":"e3","k":"l","t":156,"v":94},{"c":"e3","k":"l","t":187,"v":97},{"c":"e3","k":"l","t":218,"v":100},{"c":"e3","k":"l","t":250,"v":101},{"c":"e3","k":"l","t":270,"v":103},{"c":"e3","k":"l","t":291,"v":82},{"c":"e3","k":"l","t":302,"v":28},{"c":"e3","k":"l","t":322,"v":62},{"c":"e3","k":"l","t":343,"v":57},{"c":"e3","k":"l","t":364,"v":60},{"c":"e3","k":"l","t":385,"v":54},{"c":"e3","k":"l","t":406,"v":58},{"c":"e3","k":"l","t":426,"v":51},{"c":"e3","k":"l","t":447,"v":56},{"c":"e3","k":"l","t":468,"v":49},{"c":"e3","k":"l","t":489,"v":53},{"c":"e3","k":"l","t":510,"v":46},{"c":"e3","k":"l","t":530,"v":51},{"c":"e3","k":"l","t":551,"v":44},{"c":"e3","k":"l","t":572,"v":49},{"c":"e3","k":"l","t":593,"v":41},{"c":"e3","k":"l","t":614,"v":47},{"c":"e3","k":"l","t":634,"v":39},{"c":"e3","k":"l","t":655,"v":45},{"c":"e3","k":"l","t":676,"v":38},{"c":"e3","k":"l","t":697,"v":42},{"c":"e3","k":"l","t":718,"v":35},{"c":"e3","k":"l","t":738,"v":41},{"c":"e3","k":"l","t":759,"v":33},{"c":"e3","k":"l","t":780,"v":39},{"c":"e3","k":"l","t":801,"v":31},{"c":"e3","k":"l","t":822,"v":37},{"c":"e3","k":"l","t":842,"v":30},{"c":"e3","k":"l","t":863,"v":36},{"c":"e3","k":"l","t":884,"v":28},{"c":"e3","k":"l","t":905,"v":34},{"c":"e3","k":"l","t":926,"v":31},{"c":"e3","k":"l","t":946,"v":26},{"c":"e3","k":"l","t":967,"v":33},{"c":"e3","k":"l","t":988,"v":29},{"c":"e3","k":"l","t":1009,"v":24},{"c":"e3","k":"l","t":1030,"v":31},{"c":"e3","k":"l","t":1050,"v":27},{"c":"e3","k":"l","t":1071,"v":22},{"c":"e3","k":"l","t":1092,"v":29},{"c":"e3","k":"l","t":1113,"v":25},{"c":"e3","k":"l","t":1134,"v":19},{"c":"e3","k":"l","t":1154,"v":27},{"c":"e3","k":"l","t":1175,"v":23},{"c":"e3","k":"l","t":1196,"v":17},{"c":"e3","k":"l","t":1217,"v":25},{"c":"e3","k":"l","t":1238,"v":21},{"c":"e3","k":"l","t":1258,"v":15},{"c":"e3","k":"l","t":1279,"v":23},{"c":"e3","k":"l","t":1300,"v":19},{"c":"e3","k":"l","t":1321,"v":14},{"c":"e3","k":"l","t":1342,"v":22},{"c":"e3","k":"l","t":1362,"v":17},{"c":"e3","k":"l","t":1383,"v":24},{"c":"e3","k":"l","t":1404,"v":16},{"c":"e3","k":"l","t":1425,"v":21},{"c":"e3","k":"l","t":1446,"v":13},{"c":"e3","k":"l","t":1466,"v":20},{"c":"e3","k":"l","t":1487,"v":16},{"c":"e3","k":"l","t":1508,"v":23},{"c":"e3","k":"l","t":1529,"v":15},{"c":"e3","k":"l","t":1550,"v":19},{"c":"e3","k":"l","t":1570,"v":12},{"c":"e3","k":"l","t":1591,"v":20},{"c":"e3","k":"l","t":1612,"v":17},{"c":"e3","k":"l","t":1633,"v":24},{"c":"e3","k":"l","t":1654,"v":18},{"c":"e3","k":"l","t":1674,"v":22},{"c":"e3","k":"l","t":1695,"v":15},{"c":"e3","k":"l","t":1716,"v":21},{"c":"e3","k":"l","t":1737,"v":17},{"c":"e3","k":"l","t":1758,"v":25},{"c":"e3","k":"l","t":1778,"v":19},{"c":"e3","k":"l","t":1799,"v":23},{"c":"e3","k":"l","t":1820,"v":16},{"c":"e3","k":"l","t":1841,"v":22},{"c":"e3","k":"l","t":1862,"v":20},{"c":"e3","k":"l","t":1882,"v":27},{"c":"e3","k":"l","t":1903,"v":21},{"c":"e3","k":"l","t":1924,"v":24},{"c":"e3","k":"l","t":1945,"v":19},{"c":"e3","k":"l","t":1966,"v":26},{"c":"e3","k":"l","t":1986,"v":22},{"c":"e3","k":"l","t":2007,"v":28},{"c":"e3","k":"l","t":2028,"v":21},{"c":"e3","k":"l","t":2049,"v":25},{"c":"e3","k":"l","t":2070,"v":29},{"c":"e3","k":"l","t":2090,"v":23},{"c":"e3","k":"l","t":2111,"v":27},{"c":"e3","k":"l","t":2132,"v":22},{"c":"e3","k":"l","t":2153,"v":28},{"c":"e3","k":"l","t":2174,"v":24},{"c":"e3","k":"l","t":2205,"v":26},
{"c":"e3","k":"b","t":978,"t2":978,"v":63.6,"w":83.6},
{"c":"e3","k":"tl","t":1061,"v":75.6,"s":"20 pA","fs":14},
{"c":"e4","k":"g","t":0,"t2":187,"v":0,"w":108},
{"c":"e4","k":"l","t":0,"v":100},{"c":"e4","k":"l","t":31,"v":102},{"c":"e4","k":"l","t":62,"v":98},{"c":"e4","k":"l","t":94,"v":101},{"c":"e4","k":"l","t":125,"v":99},{"c":"e4","k":"l","t":156,"v":97},{"c":"e4","k":"l","t":187,"v":101},{"c":"e4","k":"l","t":218,"v":99},{"c":"e4","k":"l","t":250,"v":98},{"c":"e4","k":"l","t":270,"v":91},{"c":"e4","k":"l","t":291,"v":79},{"c":"e4","k":"l","t":312,"v":76},{"c":"e4","k":"l","t":333,"v":70},{"c":"e4","k":"l","t":354,"v":62},{"c":"e4","k":"l","t":374,"v":65},{"c":"e4","k":"l","t":395,"v":58},{"c":"e4","k":"l","t":416,"v":53},{"c":"e4","k":"l","t":437,"v":48},{"c":"e4","k":"l","t":458,"v":43},{"c":"e4","k":"l","t":478,"v":50},{"c":"e4","k":"l","t":499,"v":46},{"c":"e4","k":"l","t":520,"v":55},{"c":"e4","k":"l","t":541,"v":51},{"c":"e4","k":"l","t":562,"v":57},{"c":"e4","k":"l","t":582,"v":52},{"c":"e4","k":"l","t":603,"v":49},{"c":"e4","k":"l","t":624,"v":56},{"c":"e4","k":"l","t":645,"v":53},{"c":"e4","k":"l","t":666,"v":58},{"c":"e4","k":"l","t":686,"v":51},{"c":"e4","k":"l","t":707,"v":55},{"c":"e4","k":"l","t":728,"v":50},{"c":"e4","k":"l","t":749,"v":57},{"c":"e4","k":"l","t":770,"v":53},{"c":"e4","k":"l","t":790,"v":48},{"c":"e4","k":"l","t":811,"v":55},{"c":"e4","k":"l","t":832,"v":51},{"c":"e4","k":"l","t":853,"v":57},{"c":"e4","k":"l","t":874,"v":50},{"c":"e4","k":"l","t":894,"v":54},{"c":"e4","k":"l","t":915,"v":49},{"c":"e4","k":"l","t":936,"v":56},{"c":"e4","k":"l","t":957,"v":52},{"c":"e4","k":"l","t":978,"v":55},{"c":"e4","k":"l","t":998,"v":50},{"c":"e4","k":"l","t":1019,"v":57},{"c":"e4","k":"l","t":1040,"v":53},{"c":"e4","k":"l","t":1061,"v":49},{"c":"e4","k":"l","t":1082,"v":55},{"c":"e4","k":"l","t":1102,"v":52},{"c":"e4","k":"l","t":1123,"v":58},{"c":"e4","k":"l","t":1144,"v":51},{"c":"e4","k":"l","t":1165,"v":54},{"c":"e4","k":"l","t":1186,"v":50},{"c":"e4","k":"l","t":1206,"v":56},{"c":"e4","k":"l","t":1227,"v":53},{"c":"e4","k":"l","t":1248,"v":58},{"c":"e4","k":"l","t":1269,"v":51},{"c":"e4","k":"l","t":1290,"v":55},{"c":"e4","k":"l","t":1310,"v":52},{"c":"e4","k":"l","t":1331,"v":57},{"c":"e4","k":"l","t":1352,"v":54},{"c":"e4","k":"l","t":1373,"v":50},{"c":"e4","k":"l","t":1394,"v":56},{"c":"e4","k":"l","t":1414,"v":53},{"c":"e4","k":"l","t":1435,"v":59},{"c":"e4","k":"l","t":1456,"v":52},{"c":"e4","k":"l","t":1477,"v":56},{"c":"e4","k":"l","t":1498,"v":54},{"c":"e4","k":"l","t":1518,"v":60},{"c":"e4","k":"l","t":1539,"v":53},{"c":"e4","k":"l","t":1560,"v":57},{"c":"e4","k":"l","t":1581,"v":55},{"c":"e4","k":"l","t":1602,"v":52},{"c":"e4","k":"l","t":1622,"v":58},{"c":"e4","k":"l","t":1643,"v":55},{"c":"e4","k":"l","t":1664,"v":60},{"c":"e4","k":"l","t":1685,"v":54},{"c":"e4","k":"l","t":1706,"v":58},{"c":"e4","k":"l","t":1726,"v":56},{"c":"e4","k":"l","t":1747,"v":61},{"c":"e4","k":"l","t":1768,"v":55},{"c":"e4","k":"l","t":1789,"v":59},{"c":"e4","k":"l","t":1810,"v":57},{"c":"e4","k":"l","t":1830,"v":62},{"c":"e4","k":"l","t":1851,"v":56},{"c":"e4","k":"l","t":1872,"v":60},{"c":"e4","k":"l","t":1893,"v":58},{"c":"e4","k":"l","t":1914,"v":63},{"c":"e4","k":"l","t":1934,"v":57},{"c":"e4","k":"l","t":1955,"v":61},{"c":"e4","k":"l","t":1976,"v":59},{"c":"e4","k":"l","t":1997,"v":64},{"c":"e4","k":"l","t":2018,"v":58},{"c":"e4","k":"l","t":2038,"v":62},{"c":"e4","k":"l","t":2059,"v":60},{"c":"e4","k":"l","t":2080,"v":65},{"c":"e4","k":"l","t":2101,"v":59},{"c":"e4","k":"l","t":2122,"v":63},{"c":"e4","k":"l","t":2142,"v":61},{"c":"e4","k":"l","t":2163,"v":64},{"c":"e4","k":"l","t":2205,"v":62},
{"c":"e4","k":"b","t":1227,"t2":1727,"v":27.6,"w":27.6},
{"c":"e4","k":"tc","t":1477,"v":10.8,"s":"500 ms","fs":14}
],
"B": [
{"k":"L","x":-189,"y":1.106,"s":"B"},
{"k":"p","g":"Control","x":15,"y":0.028,"lo":0.028,"hi":0.028},{"k":"p","g":"Control","x":50,"y":0.083,"lo":0.05,"hi":0.12},{"k":"p","g":"Control","x":100,"y":0.208,"lo":0.14,"hi":0.27},{"k":"p","g":"Control","x":150,"y":0.279,"lo":0.19,"hi":0.37},{"k":"p","g":"Control","x":200,"y":0.407,"lo":0.34,"hi":0.48},{"k":"p","g":"Control","x":300,"y":0.397,"lo":0.31,"hi":0.48},{"k":"p","g":"Control","x":400,"y":0.374,"lo":0.22,"hi":0.51},{"k":"p","g":"Control","x":500,"y":0.343,"lo":0.24,"hi":0.45},{"k":"p","g":"Control","x":600,"y":0.225,"lo":0.12,"hi":0.33},
{"k":"p","g":"VG3-DTR","x":-8,"y":0.005,"lo":0.005,"hi":0.005},{"k":"p","g":"VG3-DTR","x":15,"y":0.005,"lo":0.005,"hi":0.005},{"k":"p","g":"VG3-DTR","x":50,"y":0.272,"lo":0.19,"hi":0.355},{"k":"p","g":"VG3-DTR","x":100,"y":0.603,"lo":0.51,"hi":0.71},{"k":"p","g":"VG3-DTR","x":150,"y":0.965,"lo":0.85,"hi":1.09},{"k":"p","g":"VG3-DTR","x":200,"y":0.745,"lo":0.65,"hi":0.84},{"k":"p","g":"VG3-DTR","x":300,"y":0.627,"lo":0.54,"hi":0.71},{"k":"p","g":"VG3-DTR","x":400,"y":0.527,"lo":0.43,"hi":0.63},{"k":"p","g":"VG3-DTR","x":500,"y":0.255,"lo":0.2,"hi":0.3},{"k":"p","g":"VG3-DTR","x":600,"y":0.17,"lo":0.14,"hi":0.2},
{"k":"f","g":"Control","x":0,"y":0.01},{"k":"f","g":"Control","x":25,"y":0.04},{"k":"f","g":"Control","x":50,"y":0.08},{"k":"f","g":"Control","x":75,"y":0.135},{"k":"f","g":"Control","x":100,"y":0.19},{"k":"f","g":"Control","x":125,"y":0.25},{"k":"f","g":"Control","x":150,"y":0.3},{"k":"f","g":"Control","x":175,"y":0.345},{"k":"f","g":"Control","x":200,"y":0.375},{"k":"f","g":"Control","x":250,"y":0.405},{"k":"f","g":"Control","x":300,"y":0.41},{"k":"f","g":"Control","x":350,"y":0.395},{"k":"f","g":"Control","x":400,"y":0.37},{"k":"f","g":"Control","x":450,"y":0.34},{"k":"f","g":"Control","x":500,"y":0.31},{"k":"f","g":"Control","x":550,"y":0.265},{"k":"f","g":"Control","x":600,"y":0.22},
{"k":"f","g":"VG3-DTR","x":15,"y":0},{"k":"f","g":"VG3-DTR","x":25,"y":0.06},{"k":"f","g":"VG3-DTR","x":50,"y":0.28},{"k":"f","g":"VG3-DTR","x":75,"y":0.49},{"k":"f","g":"VG3-DTR","x":100,"y":0.66},{"k":"f","g":"VG3-DTR","x":125,"y":0.77},{"k":"f","g":"VG3-DTR","x":150,"y":0.83},{"k":"f","g":"VG3-DTR","x":175,"y":0.85},{"k":"f","g":"VG3-DTR","x":200,"y":0.84},{"k":"f","g":"VG3-DTR","x":225,"y":0.8},{"k":"f","g":"VG3-DTR","x":250,"y":0.76},{"k":"f","g":"VG3-DTR","x":275,"y":0.71},{"k":"f","g":"VG3-DTR","x":300,"y":0.66},{"k":"f","g":"VG3-DTR","x":350,"y":0.56},{"k":"f","g":"VG3-DTR","x":400,"y":0.47},{"k":"f","g":"VG3-DTR","x":450,"y":0.39},{"k":"f","g":"VG3-DTR","x":500,"y":0.31},{"k":"f","g":"VG3-DTR","x":550,"y":0.25},{"k":"f","g":"VG3-DTR","x":600,"y":0.19},
{"k":"lc","x":583,"y":1.03,"s":"Control"},
{"k":"lv","x":589,"y":0.917,"s":"VG3-DTR"}
],
"D": [
{"k":"L","x":-206,"y":1.975,"s":"D"},
{"k":"p","g":"Control","x":15,"y":0,"lo":0,"hi":0},{"k":"p","g":"Control","x":50,"y":0.26,"lo":0.21,"hi":0.33},{"k":"p","g":"Control","x":100,"y":0.625,"lo":0.46,"hi":0.79},{"k":"p","g":"Control","x":150,"y":1.44,"lo":1.29,"hi":1.6},{"k":"p","g":"Control","x":200,"y":1.65,"lo":1.5,"hi":1.81},{"k":"p","g":"Control","x":300,"y":1.74,"lo":1.67,"hi":1.82},{"k":"p","g":"Control","x":400,"y":1.7,"lo":1.63,"hi":1.79},{"k":"p","g":"Control","x":500,"y":1.74,"lo":1.68,"hi":1.8},{"k":"p","g":"Control","x":600,"y":1.74,"lo":1.68,"hi":1.8},
{"k":"p","g":"VG3-DTR","x":-5,"y":0,"lo":0,"hi":0},{"k":"p","g":"VG3-DTR","x":15,"y":0.096,"lo":0.096,"hi":0.096},{"k":"p","g":"VG3-DTR","x":50,"y":0.083,"lo":0.083,"hi":0.083},{"k":"p","g":"VG3-DTR","x":100,"y":0.117,"lo":0.117,"hi":0.117},{"k":"p","g":"VG3-DTR","x":150,"y":0.325,"lo":0.17,"hi":0.5},{"k":"p","g":"VG3-DTR","x":200,"y":0.833,"lo":0.5,"hi":1.19},{"k":"p","g":"VG3-DTR","x":300,"y":0.896,"lo":0.67,"hi":1.12},{"k":"p","g":"VG3-DTR","x":400,"y":1.375,"lo":1.15,"hi":1.56},{"k":"p","g":"VG3-DTR","x":500,"y":1.85,"lo":1.85,"hi":1.85},{"k":"p","g":"VG3-DTR","x":600,"y":1.85,"lo":1.85,"hi":1.85},
{"k":"f","g":"Control","x":15,"y":0},{"k":"f","g":"Control","x":25,"y":0.05},{"k":"f","g":"Control","x":50,"y":0.22},{"k":"f","g":"Control","x":75,"y":0.47},{"k":"f","g":"Control","x":100,"y":0.78},{"k":"f","g":"Control","x":125,"y":1.08},{"k":"f","g":"Control","x":150,"y":1.33},{"k":"f","g":"Control","x":175,"y":1.52},{"k":"f","g":"Control","x":200,"y":1.63},{"k":"f","g":"Control","x":225,"y":1.69},{"k":"f","g":"Control","x":250,"y":1.72},{"k":"f","g":"Control","x":300,"y":1.735},{"k":"f","g":"Control","x":400,"y":1.74},{"k":"f","g":"Control","x":600,"y":1.74},
{"k":"f","g":"VG3-DTR","x":0,"y":0},{"k":"f","g":"VG3-DTR","x":25,"y":0.03},{"k":"f","g":"VG3-DTR","x":50,"y":0.06},{"k":"f","g":"VG3-DTR","x":100,"y":0.16},{"k":"f","g":"VG3-DTR","x":150,"y":0.34},{"k":"f","g":"VG3-DTR","x":200,"y":0.59},{"k":"f","g":"VG3-DTR","x":250,"y":0.83},{"k":"f","g":"VG3-DTR","x":300,"y":1.06},{"k":"f","g":"VG3-DTR","x":350,"y":1.28},{"k":"f","g":"VG3-DTR","x":400,"y":1.47},{"k":"f","g":"VG3-DTR","x":450,"y":1.63},{"k":"f","g":"VG3-DTR","x":500,"y":1.75},{"k":"f","g":"VG3-DTR","x":550,"y":1.83},{"k":"f","g":"VG3-DTR","x":600,"y":1.88}
],
"F": [
{"k":"L","x":-179,"y":1.369,"s":"F"},
{"k":"p","g":"Control","x":-8,"y":0.057,"lo":0.057,"hi":0.057},{"k":"p","g":"Control","x":15,"y":0.108,"lo":0.108,"hi":0.108},{"k":"p","g":"Control","x":50,"y":0.086,"lo":0.086,"hi":0.086},{"k":"p","g":"Control","x":100,"y":0.43,"lo":0.34,"hi":0.5},{"k":"p","g":"Control","x":150,"y":0.651,"lo":0.56,"hi":0.76},{"k":"p","g":"Control","x":200,"y":0.766,"lo":0.64,"hi":0.86},{"k":"p","g":"Control","x":300,"y":1.023,"lo":0.89,"hi":1.16},{"k":"p","g":"Control","x":400,"y":0.9,"lo":0.86,"hi":0.97},{"k":"p","g":"Control","x":500,"y":1.129,"lo":0.97,"hi":1.29},{"k":"p","g":"Control","x":600,"y":0.957,"lo":0.81,"hi":1.1},
{"k":"p","g":"VG3-DTR","x":-8,"y":0.043,"lo":0.043,"hi":0.043},{"k":"p","g":"VG3-DTR","x":15,"y":0.023,"lo":0.023,"hi":0.023},{"k":"p","g":"VG3-DTR","x":50,"y":0.08,"lo":0.08,"hi":0.08},{"k":"p","g":"VG3-DTR","x":100,"y":0.214,"lo":0.14,"hi":0.29},{"k":"p","g":"VG3-DTR","x":150,"y":0.329,"lo":0.26,"hi":0.4},{"k":"p","g":"VG3-DTR","x":200,"y":0.38,"lo":0.38,"hi":0.38},{"k":"p","g":"VG3-DTR","x":300,"y":0.594,"lo":0.51,"hi":0.67},{"k":"p","g":"VG3-DTR","x":400,"y":0.606,"lo":0.54,"hi":0.66},{"k":"p","g":"VG3-DTR","x":500,"y":0.614,"lo":0.54,"hi":0.67},{"k":"p","g":"VG3-DTR","x":600,"y":0.614,"lo":0.47,"hi":0.76},
{"k":"f","g":"Control","x":0,"y":0.02},{"k":"f","g":"Control","x":25,"y":0.04},{"k":"f","g":"Control","x":50,"y":0.12},{"k":"f","g":"Control","x":75,"y":0.25},{"k":"f","g":"Control","x":100,"y":0.42},{"k":"f","g":"Control","x":125,"y":0.56},{"k":"f","g":"Control","x":150,"y":0.67},{"k":"f","g":"Control","x":175,"y":0.76},{"k":"f","g":"Control","x":200,"y":0.83},{"k":"f","g":"Control","x":250,"y":0.93},{"k":"f","g":"Control","x":300,"y":0.975},{"k":"f","g":"Control","x":350,"y":0.99},{"k":"f","g":"Control","x":400,"y":1},{"k":"f","g":"Control","x":500,"y":1},{"k":"f","g":"Control","x":600,"y":1},
{"k":"f","g":"VG3-DTR","x":0,"y":0.01},{"k":"f","g":"VG3-DTR","x":25,"y":0.03},{"k":"f","g":"VG3-DTR","x":50,"y":0.07},{"k":"f","g":"VG3-DTR","x":75,"y":0.13},{"k":"f","g":"VG3-DTR","x":100,"y":0.2},{"k":"f","g":"VG3-DTR","x":125,"y":0.27},{"k":"f","g":"VG3-DTR","x":150,"y":0.34},{"k":"f","g":"VG3-DTR","x":175,"y":0.4},{"k":"f","g":"VG3-DTR","x":200,"y":0.46},{"k":"f","g":"VG3-DTR","x":250,"y":0.54},{"k":"f","g":"VG3-DTR","x":300,"y":0.58},{"k":"f","g":"VG3-DTR","x":350,"y":0.6},{"k":"f","g":"VG3-DTR","x":400,"y":0.605},{"k":"f","g":"VG3-DTR","x":500,"y":0.61},{"k":"f","g":"VG3-DTR","x":600,"y":0.61}
]
},
"spacing": 15.5,
"vconcat": [
{"columns": 8, "bounds": "flush", "spacing": {"row": 10, "column": 2},
 "concat": [
  {"width":110,"height":90,"data":{"name":"A"},"transform":[{"filter":"datum.c=='a1'"}],
   "encoding":{"x":{"field":"t","type":"quantitative","scale":{"domain":[0,1485],"nice":false,"zero":false},"axis":null},
               "y":{"field":"v","type":"quantitative","scale":{"domain":[0,66.7],"nice":false,"zero":false},"axis":{"title":"150 µm","domain":false,"ticks":false,"labels":false,"titleFontSize":13,"titlePadding":6}}},
   "layer":[
    {"transform":[{"filter":"datum.k=='g'"}],"mark":{"type":"rect","color":"#e6e6e6"},"encoding":{"x2":{"field":"t2"},"y2":{"field":"w"}}},
    {"transform":[{"filter":"datum.k=='l'"}],"mark":{"type":"line","color":"black","strokeWidth":1},"encoding":{}},
    {"transform":[{"filter":"datum.k=='s'"}],"mark":{"type":"rule","color":"black","strokeWidth":1},"encoding":{"y2":{"field":"w"}}},
    {"transform":[{"filter":"datum.k=='tl'"}],"mark":{"type":"text","align":"left","baseline":"middle","color":"black"},"encoding":{"text":{"field":"s"},"size":{"field":"fs","type":"quantitative","scale":null}}},
    {"transform":[{"filter":"datum.k=='L'"}],"mark":{"type":"text","align":"left","baseline":"alphabetic","fontSize":20,"color":"black"},"encoding":{"text":{"field":"s"}}}
   ]},
  {"width":110,"height":90,"data":{"name":"A"},"transform":[{"filter":"datum.c=='a2'"}],
   "encoding":{"x":{"field":"t","type":"quantitative","scale":{"domain":[0,1485],"nice":false,"zero":false},"axis":null},
               "y":{"field":"v","type":"quantitative","scale":{"domain":[0,66.7],"nice":false,"zero":false},"axis":null}},
   "layer":[
    {"transform":[{"filter":"datum.k=='g'"}],"mark":{"type":"rect","color":"#e6e6e6"},"encoding":{"x2":{"field":"t2"},"y2":{"field":"w"}}},
    {"transform":[{"filter":"datum.k=='l'"}],"mark":{"type":"line","color":"#e31ee3","strokeWidth":1},"encoding":{}},
    {"transform":[{"filter":"datum.k=='s'"}],"mark":{"type":"rule","color":"#e31ee3","strokeWidth":1},"encoding":{"y2":{"field":"w"}}}
   ]},
  {"width":31,"height":90,"data":{"values":[{"a":1}]},"mark":{"type":"point","opacity":0}},
  {"width":111,"height":90,"data":{"name":"C"},"transform":[{"filter":"datum.c=='c1'"}],
   "encoding":{"x":{"field":"t","type":"quantitative","scale":{"domain":[0,2409],"nice":false,"zero":false},"axis":null},
               "y":{"field":"v","type":"quantitative","scale":{"domain":[0,78.3],"nice":false,"zero":false},"axis":{"title":"150 µm","domain":false,"ticks":false,"labels":false,"titleFontSize":13,"titlePadding":4}}},
   "layer":[
    {"transform":[{"filter":"datum.k=='g'"}],"mark":{"type":"rect","color":"#e6e6e6"},"encoding":{"x2":{"field":"t2"},"y2":{"field":"w"}}},
    {"transform":[{"filter":"datum.k=='l'"}],"mark":{"type":"line","color":"black","strokeWidth":1},"encoding":{}},
    {"transform":[{"filter":"datum.k=='s'"}],"mark":{"type":"rule","color":"black","strokeWidth":1},"encoding":{"y2":{"field":"w"}}},
    {"transform":[{"filter":"datum.k=='tl'"}],"mark":{"type":"text","align":"left","baseline":"middle","color":"black"},"encoding":{"text":{"field":"s"},"size":{"field":"fs","type":"quantitative","scale":null}}},
    {"transform":[{"filter":"datum.k=='L'"}],"mark":{"type":"text","align":"left","baseline":"alphabetic","fontSize":20,"color":"black"},"encoding":{"text":{"field":"s"}}}
   ]},
  {"width":105,"height":90,"data":{"name":"C"},"transform":[{"filter":"datum.c=='c2'"}],
   "encoding":{"x":{"field":"t","type":"quantitative","scale":{"domain":[0,2279],"nice":false,"zero":false},"axis":null},
               "y":{"field":"v","type":"quantitative","scale":{"domain":[0,78.3],"nice":false,"zero":false},"axis":null}},
   "layer":[
    {"transform":[{"filter":"datum.k=='g'"}],"mark":{"type":"rect","color":"#e6e6e6"},"encoding":{"x2":{"field":"t2"},"y2":{"field":"w"}}},
    {"transform":[{"filter":"datum.k=='l'"}],"mark":{"type":"line","color":"#e31ee3","strokeWidth":1},"encoding":{}},
    {"transform":[{"filter":"datum.k=='s'"}],"mark":{"type":"rule","color":"#e31ee3","strokeWidth":1},"encoding":{"y2":{"field":"w"}}}
   ]},
  {"width":30,"height":90,"data":{"values":[{"a":1}]},"mark":{"type":"point","opacity":0}},
  {"width":110,"height":90,"data":{"name":"E"},"transform":[{"filter":"datum.c=='e1'"}],
   "encoding":{"x":{"field":"t","type":"quantitative","scale":{"domain":[0,2288],"nice":false,"zero":false},"axis":null},
               "y":{"field":"v","type":"quantitative","scale":{"domain":[0,108],"nice":false,"zero":false},"axis":{"title":"150 µm","domain":false,"ticks":false,"labels":false,"titleFontSize":13,"titlePadding":6}}},
   "layer":[
    {"transform":[{"filter":"datum.k=='g'"}],"mark":{"type":"rect","color":"#e6e6e6"},"encoding":{"x2":{"field":"t2"},"y2":{"field":"w"}}},
    {"transform":[{"filter":"datum.k=='l'"}],"mark":{"type":"line","color":"black","strokeWidth":1},"encoding":{}},
    {"transform":[{"filter":"datum.k=='tl'"}],"mark":{"type":"text","align":"left","baseline":"middle","color":"black"},"encoding":{"text":{"field":"s"},"size":{"field":"fs","type":"quantitative","scale":null}}},
    {"transform":[{"filter":"datum.k=='L'"}],"mark":{"type":"text","align":"left","baseline":"alphabetic","fontSize":20,"color":"black"},"encoding":{"text":{"field":"s"}}}
   ]},
  {"width":106,"height":90,"data":{"name":"E"},"transform":[{"filter":"datum.c=='e2'"}],
   "encoding":{"x":{"field":"t","type":"quantitative","scale":{"domain":[0,2205],"nice":false,"zero":false},"axis":null},
               "y":{"field":"v","type":"quantitative","scale":{"domain":[0,108],"nice":false,"zero":false},"axis":null}},
   "layer":[
    {"transform":[{"filter":"datum.k=='g'"}],"mark":{"type":"rect","color":"#e6e6e6"},"encoding":{"x2":{"field":"t2"},"y2":{"field":"w"}}},
    {"transform":[{"filter":"datum.k=='l'"}],"mark":{"type":"line","color":"#e31ee3","strokeWidth":1},"encoding":{}}
   ]},
  {"width":110,"height":90,"data":{"name":"A"},"transform":[{"filter":"datum.c=='a3'"}],
   "encoding":{"x":{"field":"t","type":"quantitative","scale":{"domain":[0,1485],"nice":false,"zero":false},"axis":null},
               "y":{"field":"v","type":"quantitative","scale":{"domain":[0,66.7],"nice":false,"zero":false},"axis":{"title":"600 µm","domain":false,"ticks":false,"labels":false,"titleFontSize":13,"titlePadding":6}}},
   "layer":[
    {"transform":[{"filter":"datum.k=='g'"}],"mark":{"type":"rect","color":"#e6e6e6"},"encoding":{"x2":{"field":"t2"},"y2":{"field":"w"}}},
    {"transform":[{"filter":"datum.k=='l'"}],"mark":{"type":"line","color":"black","strokeWidth":1},"encoding":{}},
    {"transform":[{"filter":"datum.k=='s'"}],"mark":{"type":"rule","color":"black","strokeWidth":1},"encoding":{"y2":{"field":"w"}}},
    {"transform":[{"filter":"datum.k=='b'"}],"mark":{"type":"rule","color":"black","strokeWidth":1},"encoding":{"x2":{"field":"t2"},"y2":{"field":"w"}}},
    {"transform":[{"filter":"datum.k=='tl'"}],"mark":{"type":"text","align":"left","baseline":"middle","color":"black"},"encoding":{"text":{"field":"s"},"size":{"field":"fs","type":"quantitative","scale":null}}}
   ]},
  {"width":110,"height":90,"data":{"name":"A"},"transform":[{"filter":"datum.c=='a4'"}],
   "encoding":{"x":{"field":"t","type":"quantitative","scale":{"domain":[0,1485],"nice":false,"zero":false},"axis":null},
               "y":{"field":"v","type":"quantitative","scale":{"domain":[0,66.7],"nice":false,"zero":false},"axis":null}},
   "layer":[
    {"transform":[{"filter":"datum.k=='g'"}],"mark":{"type":"rect","color":"#e6e6e6"},"encoding":{"x2":{"field":"t2"},"y2":{"field":"w"}}},
    {"transform":[{"filter":"datum.k=='l'"}],"mark":{"type":"line","color":"#e31ee3","strokeWidth":1},"encoding":{}},
    {"transform":[{"filter":"datum.k=='s'"}],"mark":{"type":"rule","color":"#e31ee3","strokeWidth":1},"encoding":{"y2":{"field":"w"}}},
    {"transform":[{"filter":"datum.k=='b'"}],"mark":{"type":"rule","color":"black","strokeWidth":1},"encoding":{"x2":{"field":"t2"},"y2":{"field":"w"}}},
    {"transform":[{"filter":"datum.k=='tc'"}],"mark":{"type":"text","align":"center","baseline":"middle","color":"black"},"encoding":{"text":{"field":"s"},"size":{"field":"fs","type":"quantitative","scale":null}}}
   ]},
  {"width":31,"height":90,"data":{"values":[{"a":1}]},"mark":{"type":"point","opacity":0}},
  {"width":111,"height":90,"data":{"name":"C"},"transform":[{"filter":"datum.c=='c3'"}],
   "encoding":{"x":{"field":"t","type":"quantitative","scale":{"domain":[0,2409],"nice":false,"zero":false},"axis":null},
               "y":{"field":"v","type":"quantitative","scale":{"domain":[0,78.3],"nice":false,"zero":false},"axis":{"title":"600 µm","domain":false,"ticks":false,"labels":false,"titleFontSize":13,"titlePadding":4}}},
   "layer":[
    {"transform":[{"filter":"datum.k=='g'"}],"mark":{"type":"rect","color":"#e6e6e6"},"encoding":{"x2":{"field":"t2"},"y2":{"field":"w"}}},
    {"transform":[{"filter":"datum.k=='l'"}],"mark":{"type":"line","color":"black","strokeWidth":1},"encoding":{}},
    {"transform":[{"filter":"datum.k=='s'"}],"mark":{"type":"rule","color":"black","strokeWidth":1},"encoding":{"y2":{"field":"w"}}},
    {"transform":[{"filter":"datum.k=='b'"}],"mark":{"type":"rule","color":"black","strokeWidth":1},"encoding":{"x2":{"field":"t2"},"y2":{"field":"w"}}},
    {"transform":[{"filter":"datum.k=='tl'"}],"mark":{"type":"text","align":"left","baseline":"middle","color":"black"},"encoding":{"text":{"field":"s"},"size":{"field":"fs","type":"quantitative","scale":null}}}
   ]},
  {"width":105,"height":90,"data":{"name":"C"},"transform":[{"filter":"datum.c=='c4'"}],
   "encoding":{"x":{"field":"t","type":"quantitative","scale":{"domain":[0,2279],"nice":false,"zero":false},"axis":null},
               "y":{"field":"v","type":"quantitative","scale":{"domain":[0,78.3],"nice":false,"zero":false},"axis":null}},
   "layer":[
    {"transform":[{"filter":"datum.k=='g'"}],"mark":{"type":"rect","color":"#e6e6e6"},"encoding":{"x2":{"field":"t2"},"y2":{"field":"w"}}},
    {"transform":[{"filter":"datum.k=='l'"}],"mark":{"type":"line","color":"#e31ee3","strokeWidth":1},"encoding":{}},
    {"transform":[{"filter":"datum.k=='s'"}],"mark":{"type":"rule","color":"#e31ee3","strokeWidth":1},"encoding":{"y2":{"field":"w"}}},
    {"transform":[{"filter":"datum.k=='b'"}],"mark":{"type":"rule","color":"black","strokeWidth":1},"encoding":{"x2":{"field":"t2"},"y2":{"field":"w"}}},
    {"transform":[{"filter":"datum.k=='tc'"}],"mark":{"type":"text","align":"center","baseline":"middle","color":"black"},"encoding":{"text":{"field":"s"},"size":{"field":"fs","type":"quantitative","scale":null}}},
    {"transform":[{"filter":"datum.k=='tr'"}],"mark":{"type":"text","align":"right","baseline":"middle","color":"black"},"encoding":{"text":{"field":"s"},"size":{"field":"fs","type":"quantitative","scale":null}}},
    {"transform":[{"filter":"datum.k=='ti'"}],"mark":{"type":"text","align":"right","baseline":"middle","color":"#e31ee3","fontStyle":"italic"},"encoding":{"text":{"field":"s"},"size":{"field":"fs","type":"quantitative","scale":null}}}
   ]},
  {"width":30,"height":90,"data":{"values":[{"a":1}]},"mark":{"type":"point","opacity":0}},
  {"width":110,"height":90,"data":{"name":"E"},"transform":[{"filter":"datum.c=='e3'"}],
   "encoding":{"x":{"field":"t","type":"quantitative","scale":{"domain":[0,2288],"nice":false,"zero":false},"axis":null},
               "y":{"field":"v","type":"quantitative","scale":{"domain":[0,108],"nice":false,"zero":false},"axis":{"title":"600 µm","domain":false,"ticks":false,"labels":false,"titleFontSize":13,"titlePadding":6}}},
   "layer":[
    {"transform":[{"filter":"datum.k=='g'"}],"mark":{"type":"rect","color":"#e6e6e6"},"encoding":{"x2":{"field":"t2"},"y2":{"field":"w"}}},
    {"transform":[{"filter":"datum.k=='l'"}],"mark":{"type":"line","color":"black","strokeWidth":1},"encoding":{}},
    {"transform":[{"filter":"datum.k=='b'"}],"mark":{"type":"rule","color":"black","strokeWidth":1},"encoding":{"x2":{"field":"t2"},"y2":{"field":"w"}}},
    {"transform":[{"filter":"datum.k=='tl'"}],"mark":{"type":"text","align":"left","baseline":"middle","color":"black"},"encoding":{"text":{"field":"s"},"size":{"field":"fs","type":"quantitative","scale":null}}}
   ]},
  {"width":106,"height":90,"data":{"name":"E"},"transform":[{"filter":"datum.c=='e4'"}],
   "encoding":{"x":{"field":"t","type":"quantitative","scale":{"domain":[0,2205],"nice":false,"zero":false},"axis":null},
               "y":{"field":"v","type":"quantitative","scale":{"domain":[0,108],"nice":false,"zero":false},"axis":null}},
   "layer":[
    {"transform":[{"filter":"datum.k=='g'"}],"mark":{"type":"rect","color":"#e6e6e6"},"encoding":{"x2":{"field":"t2"},"y2":{"field":"w"}}},
    {"transform":[{"filter":"datum.k=='l'"}],"mark":{"type":"line","color":"#e31ee3","strokeWidth":1},"encoding":{}},
    {"transform":[{"filter":"datum.k=='b'"}],"mark":{"type":"rule","color":"black","strokeWidth":1},"encoding":{"x2":{"field":"t2"},"y2":{"field":"w"}}},
    {"transform":[{"filter":"datum.k=='tc'"}],"mark":{"type":"text","align":"center","baseline":"middle","color":"black"},"encoding":{"text":{"field":"s"},"size":{"field":"fs","type":"quantitative","scale":null}}}
   ]}
 ]},
{"hconcat": [
  {"width":26,"height":150,"data":{"values":[{"a":1}]},"mark":{"type":"point","opacity":0}},
  {"width":185,"height":150,"data":{"name":"B"},
   "encoding":{"x":{"field":"x","type":"quantitative","scale":{"domain":[-6,620],"nice":false,"zero":false},"axis":{"values":[0,200,400,600],"title":"Diameter (µm)","titleFontSize":15,"labelFontSize":14.5,"tickSize":-4,"labelPadding":3,"titlePadding":2}}},
   "layer":[
    {"transform":[{"filter":"datum.k=='p'"}],"mark":{"type":"rule","strokeWidth":1},"encoding":{"y":{"field":"lo","type":"quantitative","scale":{"domain":[0,1.05],"nice":false,"zero":false},"axis":{"values":[0,0.5,1],"format":"~g","title":"Spike suppression (s)","titleFontSize":14.5,"labelFontSize":14,"tickSize":-4,"labelPadding":6,"titlePadding":2}},"y2":{"field":"hi"},"color":{"field":"g","type":"nominal","scale":{"domain":["Control","VG3-DTR"],"range":["black","#e31ee3"]},"legend":null}}},
    {"transform":[{"filter":"datum.k=='f'"}],"mark":{"type":"line","strokeWidth":1,"interpolate":"monotone"},"encoding":{"y":{"field":"y","type":"quantitative","scale":{"domain":[0,1.05],"nice":false,"zero":false}},"color":{"field":"g","type":"nominal","scale":{"domain":["Control","VG3-DTR"],"range":["black","#e31ee3"]},"legend":null}}},
    {"transform":[{"filter":"datum.k=='p'"}],"mark":{"type":"point","shape":"circle","filled":true,"fill":"white","size":45,"strokeWidth":1,"opacity":1},"encoding":{"y":{"field":"y","type":"quantitative","scale":{"domain":[0,1.05],"nice":false,"zero":false}},"stroke":{"field":"g","type":"nominal","scale":{"domain":["Control","VG3-DTR"],"range":["black","#e31ee3"]},"legend":null}}},
    {"transform":[{"filter":"datum.k=='lc'"}],"mark":{"type":"text","align":"right","baseline":"middle","fontSize":14,"color":"black"},"encoding":{"y":{"field":"y","type":"quantitative","scale":{"domain":[0,1.05],"nice":false,"zero":false}},"text":{"field":"s"}}},
    {"transform":[{"filter":"datum.k=='lv'"}],"mark":{"type":"text","align":"right","baseline":"middle","fontSize":14,"fontStyle":"italic","color":"#e31ee3"},"encoding":{"y":{"field":"y","type":"quantitative","scale":{"domain":[0,1.05],"nice":false,"zero":false}},"text":{"field":"s"}}},
    {"transform":[{"filter":"datum.k=='L'"}],"mark":{"type":"text","align":"left","baseline":"alphabetic","fontSize":20,"color":"black"},"encoding":{"y":{"field":"y","type":"quantitative","scale":{"domain":[0,1.05],"nice":false,"zero":false}},"text":{"field":"s"}}}
   ]},
  {"width":67,"height":150,"data":{"values":[{"a":1}]},"mark":{"type":"point","opacity":0}},
  {"width":185,"height":150,"data":{"name":"D"},
   "encoding":{"x":{"field":"x","type":"quantitative","scale":{"domain":[-6,620],"nice":false,"zero":false},"axis":{"values":[0,200,400,600],"title":"Diameter (µm)","titleFontSize":15,"labelFontSize":14.5,"tickSize":-4,"labelPadding":3,"titlePadding":2}}},
   "layer":[
    {"transform":[{"filter":"datum.k=='p'"}],"mark":{"type":"rule","strokeWidth":1},"encoding":{"y":{"field":"lo","type":"quantitative","scale":{"domain":[0,1.875],"nice":false,"zero":false},"axis":{"values":[0,0.5,1,1.5],"format":"~g","title":"Spike suppression (s)","titleFontSize":14.5,"labelFontSize":14,"tickSize":-4,"labelPadding":6,"titlePadding":2}},"y2":{"field":"hi"},"color":{"field":"g","type":"nominal","scale":{"domain":["Control","VG3-DTR"],"range":["black","#e31ee3"]},"legend":null}}},
    {"transform":[{"filter":"datum.k=='f'"}],"mark":{"type":"line","strokeWidth":1,"interpolate":"monotone"},"encoding":{"y":{"field":"y","type":"quantitative","scale":{"domain":[0,1.875],"nice":false,"zero":false}},"color":{"field":"g","type":"nominal","scale":{"domain":["Control","VG3-DTR"],"range":["black","#e31ee3"]},"legend":null}}},
    {"transform":[{"filter":"datum.k=='p'"}],"mark":{"type":"point","shape":"circle","filled":true,"size":55,"opacity":1},"encoding":{"y":{"field":"y","type":"quantitative","scale":{"domain":[0,1.875],"nice":false,"zero":false}},"color":{"field":"g","type":"nominal","scale":{"domain":["Control","VG3-DTR"],"range":["black","#e31ee3"]},"legend":null}}},
    {"transform":[{"filter":"datum.k=='L'"}],"mark":{"type":"text","align":"left","baseline":"alphabetic","fontSize":20,"color":"black"},"encoding":{"y":{"field":"y","type":"quantitative","scale":{"domain":[0,1.875],"nice":false,"zero":false}},"text":{"field":"s"}}}
   ]},
  {"width":65,"height":150,"data":{"values":[{"a":1}]},"mark":{"type":"point","opacity":0}},
  {"width":185,"height":150,"data":{"name":"F"},
   "encoding":{"x":{"field":"x","type":"quantitative","scale":{"domain":[-6,620],"nice":false,"zero":false},"axis":{"values":[0,200,400,600],"title":"Diameter (µm)","titleFontSize":15,"labelFontSize":14.5,"tickSize":-4,"labelPadding":3,"titlePadding":2}}},
   "layer":[
    {"transform":[{"filter":"datum.k=='p'"}],"mark":{"type":"rule","strokeWidth":1},"encoding":{"y":{"field":"lo","type":"quantitative","scale":{"domain":[0,1.3],"nice":false,"zero":false},"axis":{"values":[0,0.5,1],"format":"~g","title":"Conductance (nS)","titleFontSize":14.5,"labelFontSize":14,"tickSize":-4,"labelPadding":6,"titlePadding":2}},"y2":{"field":"hi"},"color":{"field":"g","type":"nominal","scale":{"domain":["Control","VG3-DTR"],"range":["black","#e31ee3"]},"legend":null}}},
    {"transform":[{"filter":"datum.k=='f'"}],"mark":{"type":"line","strokeWidth":1,"interpolate":"monotone"},"encoding":{"y":{"field":"y","type":"quantitative","scale":{"domain":[0,1.3],"nice":false,"zero":false}},"color":{"field":"g","type":"nominal","scale":{"domain":["Control","VG3-DTR"],"range":["black","#e31ee3"]},"legend":null}}},
    {"transform":[{"filter":"datum.k=='p'"}],"mark":{"type":"point","shape":"circle","filled":true,"fill":"white","size":45,"strokeWidth":1,"opacity":1},"encoding":{"y":{"field":"y","type":"quantitative","scale":{"domain":[0,1.3],"nice":false,"zero":false}},"stroke":{"field":"g","type":"nominal","scale":{"domain":["Control","VG3-DTR"],"range":["black","#e31ee3"]},"legend":null}}},
    {"transform":[{"filter":"datum.k=='L'"}],"mark":{"type":"text","align":"left","baseline":"alphabetic","fontSize":20,"color":"black"},"encoding":{"y":{"field":"y","type":"quantitative","scale":{"domain":[0,1.3],"nice":false,"zero":false}},"text":{"field":"s"}}}
   ]}
 ], "spacing": 2, "bounds": "flush"}
]
}
